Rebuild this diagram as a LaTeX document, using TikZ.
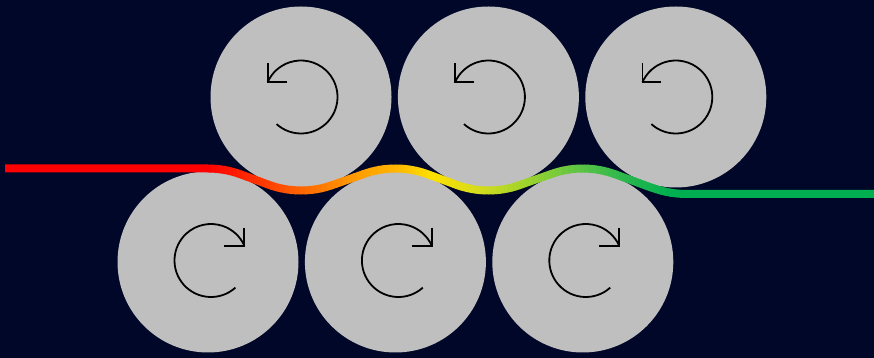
\documentclass[tikz,border=0pt]{standalone}
\definecolor{bg}{RGB}{0,7,40}
\definecolor{roll}{RGB}{191,191,191}
\definecolor{g0}{HTML}{FF0000}
\definecolor{g1}{HTML}{FF2A00}
\definecolor{g2}{HTML}{FF6400}
\definecolor{g3}{HTML}{FF9A00}
\definecolor{g4}{HTML}{FFB400}
\definecolor{g5}{HTML}{FFE000}
\definecolor{g6}{HTML}{D4DC1C}
\definecolor{g7}{HTML}{A6D42A}
\definecolor{g8}{HTML}{5CC444}
\definecolor{g9}{HTML}{30B84C}
\definecolor{g10}{HTML}{00B050}
\newcommand\rotccw[1]{%
  \draw[rotsym] ([shift={(228:36.5pt)}]#1.center) arc[start angle=228,end angle=516,radius=36.5pt] coordinate (#1e);
  \draw[rotsym] ([yshift=19pt]#1e) -- (#1e) -- ([xshift=19pt]#1e);}
\newcommand\rotcw[1]{%
  \draw[rotsym] ([shift={(3pt,1.5pt)},shift={(-48:36.5pt)}]#1.center) arc[start angle=-48,end angle=-336,radius=36.5pt] coordinate (#1e);
  \draw[rotsym] ([yshift=18pt]#1e) -- (#1e) -- ([xshift=-20pt]#1e);}
\begin{document}
\begin{tikzpicture}[x=1pt,y=1pt,
  roller/.style={circle,fill=roll,minimum size=181pt,inner sep=0pt},
  rotsym/.style={line width=1.8pt,black,line join=miter},
  belt/.style={line width=8pt},
  beltpath/.style={insert path={
    (5,189.5) -- (208,189.5) arc[start angle=90,end angle=69.72,radius=93.5pt]
    -- ([shift={(249.72:93.5pt)}]t1.center) arc[start angle=249.72,end angle=290.28,radius=93.5pt]
    -- ([shift={(110.28:93.5pt)}]b2.center) arc[start angle=110.28,end angle=69.72,radius=93.5pt]
    -- ([shift={(249.72:93.5pt)}]t2.center) arc[start angle=249.72,end angle=290.28,radius=93.5pt]
    -- ([shift={(110.28:93.5pt)}]b3.center) arc[start angle=110.28,end angle=69.72,radius=93.5pt]
    -- ([shift={(249.72:93.5pt)}]t3.center) to[out=-20.28,in=180] (688,164) -- (874,164)}}]
\useasboundingbox (0,0) rectangle (874,358);
\fill[bg] (0,0) rectangle (874,358);
% rollers
\node[roller] (b1) at (208,96) {};
\node[roller] (b2) at (395.4,96) {};
\node[roller] (b3) at (582.8,96) {};
\node[roller] (t1) at (301,261) {};
\node[roller] (t2) at (488.4,261) {};
\node[roller] (t3) at (675.8,261) {};
% belt with horizontal colour gradient
\begin{scope}
  \clip (0,0) rectangle (207.5,358);
  \draw[belt,color=g0,beltpath];
\end{scope}
\foreach \xa/\xb/\ca/\cb in {207/250/g0/g1,250/300/g1/g2,300/353/g2/g3,353/395/g3/g4,395/430/g4/g5,430/480/g5/g6,480/520/g6/g7,520/580/g7/g8,580/620/g8/g9,620/670/g9/g10}{
  \foreach \j in {0,...,9}{
    \pgfmathsetmacro\xl{\xa+(\xb-\xa)*\j/10}
    \pgfmathsetmacro\xr{\xa+(\xb-\xa)*(\j+1)/10+0.6}
    \pgfmathtruncatemacro\pc{(\j+0.5)*10}
    \begin{scope}
      \clip (\xl,0) rectangle (\xr,358);
      \draw[belt,color=\cb!\pc!\ca,beltpath];
    \end{scope}
  }
}
\begin{scope}
  \clip (669.8,0) rectangle (874,358);
  \draw[belt,color=g10,beltpath];
\end{scope}
% rotation symbols
\rotccw{t1}
\rotccw{t2}
\rotccw{t3}
\rotcw{b1}
\rotcw{b2}
\rotcw{b3}
\end{tikzpicture}
\end{document}
